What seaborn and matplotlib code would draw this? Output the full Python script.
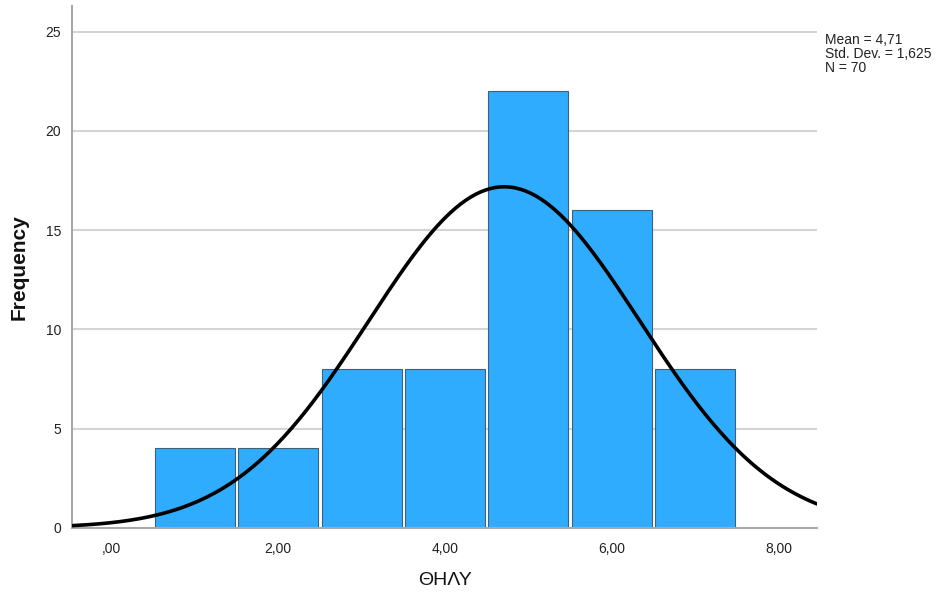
"""
Histogramme ΘΗΛΥ avec courbe normale (style SPSS).
"""
import numpy as np
import pandas as pd
import matplotlib
matplotlib.use("Agg")
import matplotlib.pyplot as plt
import seaborn as sns

sns.set_theme(style="white")
plt.rcParams['font.family'] = ['Liberation Sans', 'DejaVu Sans']

# Données
bin_centers = [1, 2, 3, 4, 5, 6, 7]
counts = [4, 4, 8, 8, 22, 16, 8]
bin_edges = [0.5, 1.5, 2.5, 3.5, 4.5, 5.5, 6.5, 7.5]
mean_val = 4.71
std_val = 1.625
n_val = 70
x_ticks = [0, 2, 4, 6, 8]
x_tick_labels = [",00", "2,00", "4,00", "6,00", "8,00"]
y_ticks = [0, 5, 10, 15, 20, 25]

df = pd.DataFrame({"ΘΗΛΥ": bin_centers, "count": counts})

fig = plt.figure(figsize=(9.38, 5.97), dpi=100)
ax = fig.add_axes([0.077, 0.116, 0.794, 0.874])

for y in y_ticks[1:]:
    ax.axhline(y, color="#d4d4d4", linewidth=1.5, zorder=0)

sns.histplot(data=df, x="ΘΗΛΥ", weights="count", bins=bin_edges, shrink=0.96,
             color="#30acff", alpha=1, edgecolor="#3d5f7e", linewidth=0.8, ax=ax, zorder=2)

# Courbe normale ajustée (mean, sd, N * largeur de classe)
xs = np.linspace(-0.47, 8.46, 300)
ys = n_val * 1.0 / (std_val * np.sqrt(2 * np.pi)) * np.exp(-0.5 * ((xs - mean_val) / std_val) ** 2)
sns.lineplot(x=xs, y=ys, color="black", linewidth=2.6, ax=ax, zorder=3)

ax.set_xlim(-0.47, 8.46)
ax.set_ylim(0, 26.3)
ax.set_xticks(x_ticks)
ax.set_xticklabels(x_tick_labels)
ax.set_yticks(y_ticks)
ax.tick_params(axis="both", length=0, labelsize=10, colors="#222222")
ax.tick_params(axis="x", pad=10)
ax.tick_params(axis="y", pad=8)

for side in ["top", "right"]:
    ax.spines[side].set_visible(False)
for side in ["left", "bottom"]:
    ax.spines[side].set_color("#a8a8a8")
    ax.spines[side].set_linewidth(1.5)

ax.set_ylabel("Frequency", fontsize=15, fontweight="bold", color="#111111")
ax.yaxis.set_label_coords(-0.058, 0.5)
ax.set_xlabel("ΘΗΛΥ", fontsize=14, labelpad=12, color="#111111")

fig.text(0.879, 0.944, f"Mean = 4,71\nStd. Dev. = 1,625\nN = {n_val}",
         fontsize=10, va="top", ha="left", linespacing=0.98, color="#222222")

fig.savefig("out.png", dpi=100)
